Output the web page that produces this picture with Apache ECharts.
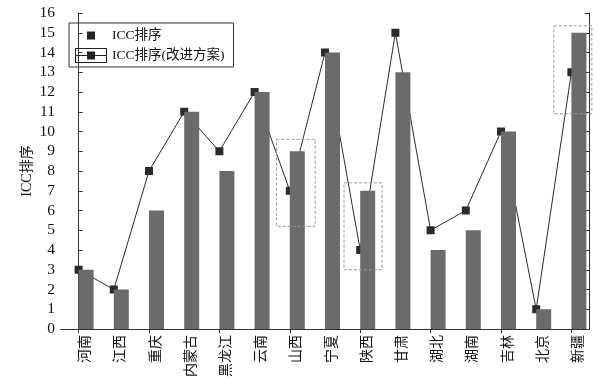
<!DOCTYPE html>
<html><head><meta charset="utf-8">
<script src="https://cdn.jsdelivr.net/npm/echarts@6/dist/echarts.min.js"></script>
<style>html,body{margin:0;padding:0;background:#fff}#c{width:608px;height:389px}</style>
</head><body><div id="c"></div>
<script>
var categories = ['河南','江西','重庆','内蒙古','黑龙江','云南','山西','宁夏','陕西','甘肃','湖北','湖南','吉林','北京','新疆'];
var iccRank = [3,2,6,11,8,12,9,14,7,13,4,5,10,1,15];
var iccRankImproved = [3,2,8,11,9,12,7,14,4,15,5,6,10,1,13];
var yTicks = [0,16,1];
// dashed highlight boxes: [xStartIndex, yLow, xEndIndex, yHigh]
var boxes = [[5.62,5.2,6.72,9.6],[7.54,3.0,8.62,7.4],[13.50,10.9,14.58,15.35]];

var FONT = "'Liberation Serif','Noto Sans CJK SC',serif";
var AX = '#333';
var chart = echarts.init(document.getElementById('c'));
chart.setOption({
  animation:false,
  textStyle:{fontFamily:FONT},
  grid:{left:61,right:19,top:13,bottom:60},
  legend:{
    orient:'vertical',left:69,top:23,
    padding:[5,9,4,6],itemGap:5,itemWidth:32,itemHeight:15,
    borderColor:'#333',borderWidth:1,
    textStyle:{fontFamily:FONT,fontSize:13.5,color:'#111'},
    data:[
      {name:'ICC排序',icon:'path://M0,0L0,0M32,15L32,15M12,3.5h8v8h-8z',itemStyle:{color:'#222'}},
      {name:'ICC排序(改进方案)',icon:'path://M0,0h32v1h-32zM0,14h32v1h-32zM0,0h1v15h-1zM31,0h1v15h-1zM1,7h11v1h-11zM20,7h11v1h-11zM12,3.5h8v8h-8z',itemStyle:{color:'#222'}}
    ]
  },
  xAxis:[
    {type:'category',data:categories,position:'bottom',boundaryGap:true,
     axisLine:{lineStyle:{color:AX,width:1}},
     axisTick:{inside:true,alignWithLabel:true,length:4,lineStyle:{color:AX}},
     axisLabel:{rotate:90,margin:6,fontSize:14,color:'#111',fontFamily:FONT,verticalAlign:'top'}},
    {type:'category',data:categories,position:'top',boundaryGap:true,
     axisLine:{show:true,lineStyle:{color:AX,width:1}},
     axisTick:{show:true,inside:true,alignWithLabel:true,length:4,lineStyle:{color:AX}},
     axisLabel:{show:false}},
    {type:'value',min:-0.5,max:14.5,show:false}
  ],
  yAxis:[
    {type:'value',min:yTicks[0],max:yTicks[1],interval:yTicks[2],position:'left',
     name:'ICC排序',nameLocation:'middle',nameGap:27,nameMoveOverlap:false,
     nameTextStyle:{fontSize:14,color:'#111',fontFamily:FONT},
     axisLine:{show:true,lineStyle:{color:AX,width:1}},
     axisTick:{show:true,inside:true,length:4,lineStyle:{color:AX}},
     axisLabel:{fontSize:15.5,color:'#111',margin:6,fontFamily:FONT},
     splitLine:{show:false}},
    {type:'value',min:yTicks[0],max:yTicks[1],interval:yTicks[2],position:'right',
     axisLine:{show:true,lineStyle:{color:AX,width:1}},
     axisTick:{show:true,inside:true,length:4,lineStyle:{color:AX}},
     axisLabel:{show:false},splitLine:{show:false}}
  ],
  series:[
    {type:'bar',name:'_pad',data:iccRank.map(function(){return 0;}),barWidth:15,barGap:'0%',
     itemStyle:{color:'rgba(0,0,0,0)'},silent:true,z:2},
    {type:'bar',name:'ICC排序',data:iccRank,barWidth:15,barGap:'0%',
     itemStyle:{color:'#6b6b6b'},z:3},
    {type:'line',name:'ICC排序(改进方案)',data:iccRankImproved,symbol:'rect',symbolSize:8,
     lineStyle:{color:'#2b2b2b',width:1},itemStyle:{color:'#2b2b2b'},z:1},
    {type:'custom',name:'boxes',xAxisIndex:2,yAxisIndex:0,data:boxes,clip:false,silent:true,z:4,
     renderItem:function(params,api){
       var p1=api.coord([api.value(0),api.value(3)]);
       var p2=api.coord([api.value(2),api.value(1)]);
       return {type:'rect',shape:{x:p1[0],y:p1[1],width:p2[0]-p1[0],height:p2[1]-p1[1]},
         style:{fill:null,stroke:'#9a9a9a',lineWidth:1,lineDash:[3,2]}};
     }}
  ]
});
</script></body></html>
